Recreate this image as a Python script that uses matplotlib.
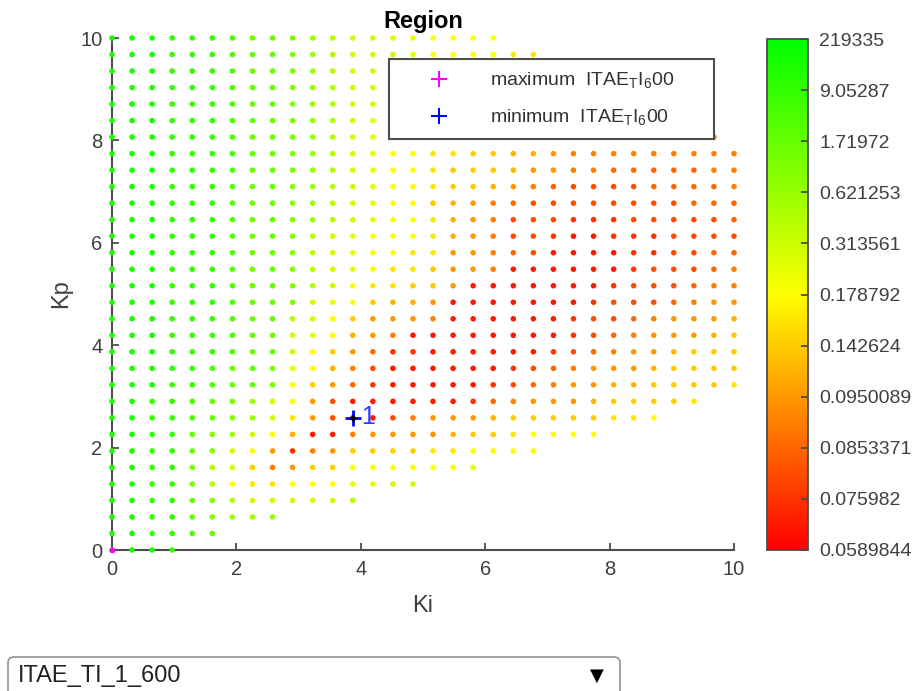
import numpy as np
import matplotlib
matplotlib.use('Agg')
import matplotlib.pyplot as plt
from matplotlib import colors
from matplotlib.lines import Line2D
from matplotlib.patches import FancyBboxPatch

plt.rcParams['font.family'] = ['Liberation Sans', 'DejaVu Sans']
plt.rcParams['mathtext.fontset'] = 'custom'
plt.rcParams['mathtext.rm'] = 'Liberation Sans'

# gain sweep used for both Ki and Kp (32 steps, 0..10)
gain_steps = [0.0, 0.323, 0.645, 0.968, 1.290, 1.613, 1.935, 2.258,
              2.581, 2.903, 3.226, 3.548, 3.871, 4.194, 4.516, 4.839,
              5.161, 5.484, 5.806, 6.129, 6.452, 6.774, 7.097, 7.419,
              7.742, 8.065, 8.387, 8.710, 9.032, 9.355, 9.677, 10.0]

# colour bar: ITAE at 0%, 10%, ... 100% rank
cbar_ticks = [0.0589844, 0.075982, 0.0853371, 0.0950089, 0.142624, 0.178792,
              0.313561, 0.621253, 1.71972, 9.05287, 219335]
cbar_labels = ['0.0589844', '0.075982', '0.0853371', '0.0950089', '0.142624',
               '0.178792', '0.313561', '0.621253', '1.71972', '9.05287', '219335']

# ITAE of each stable (Ki, Kp) pair, one string per Kp row from Kp=10 down to 0.
# char k (base 21: 0..9, A..K) = rank k/20 on the colour bar
itae_rows = [
    "JJJIIIHGGFEDCCBBAAAA",
    "JJJIIIHGGFEDCCCBAAAA99",
    "JJJIIIHGGFEDCCBBAA999888",
    "JJJIIIHGGFEDCCBAA998887776",
    "JJJIIIHGGFEDCCBAA99887766665",
    "JJJIIIHGGFEDCBAA99887766555555",
    "JJJIIIHGGFEDCBAA998876655555555",
    "JJJIIIHGGFEDCBAA9988776555555555",
    "JJJIIIHGGFEDCBAA9888766554444455",
    "JJJIIIHGGFEDCBAA9887654333344445",
    "JJJIIIHGGFEDCBAA8765433333333444",
    "JJJIIIHGGFEDCBAA9765333222333334",
    "JJJIIIHGGFDCBAAA9765332112223333",
    "JJJIIIHGGFDCBAA99665431111223344",
    "JJJIIIHGGFDCBA998665111111233345",
    "JJJIIIHGGFDCA9988611111112333455",
    "JJJIIIHGGFCBA8776111111123334566",
    "JJJIIIHGGDCA86665111111233456667",
    "JJJIIIHGGCBA76511111111234566678",
    "JJJIIIHGGCA864221111112345667888",
    "JJJIIHGGFBA753111111234566678888",
    "JJJIIHGGFA8642111112345667788889",
    "JJIIHGFECA63111111245666788889",
    "JJIIHGFEC963013566678888899A",
    "JJIIGFECA711566667889AAAA",
    "JJIIGFCA6256888899AAAA",
    "JJIIFDC85688AAAAAAB",
    "JJIIFDA99AAABBCC",
    "JJIIGFDCCCCCD",
    "JJIIGFEEE",
    "JJIIHG",
    "KJJI",
]

rank_pos = np.linspace(0, 1, len(cbar_ticks))
log_ticks = np.log10(cbar_ticks)


def to_rank(v):
    return np.interp(np.log10(np.clip(v, 1e-12, None)), log_ticks, rank_pos)


def from_rank(r):
    return 10 ** np.interp(r, rank_pos, log_ticks)


ki, kp, itae = [], [], []
nrow = len(itae_rows)
for r, row in enumerate(itae_rows):
    for i, ch in enumerate(row):
        ki.append(gain_steps[i])
        kp.append(gain_steps[nrow - 1 - r])
        itae.append(from_rank(int(ch, 21) / 20))
ki = np.array(ki)
kp = np.array(kp)
itae = np.array(itae)

cmap = colors.LinearSegmentedColormap.from_list(
    'ryg', [(0, '#ff0000'), (0.5, '#ffff00'), (1, '#00ff00')])
norm = colors.FuncNorm((to_rank, from_rank), vmin=cbar_ticks[0], vmax=cbar_ticks[-1])

fig = plt.figure(figsize=(9.15, 6.91), dpi=100)
ax = fig.add_axes([112/915, 141/691, 622/915, 512/691])
cax = fig.add_axes([767/915, 141/691, 41/915, 511/691])

sc = ax.scatter(ki, kp, c=itae, cmap=cmap, norm=norm, s=16, edgecolors='none',
                zorder=3, clip_on=False)

imax = np.argmax(itae)
imin = np.argmin(itae)
ax.plot(ki[imax], kp[imax], 'o', color='magenta', ms=4.2, mec='none', zorder=5, clip_on=False)
ax.plot(ki[imin], kp[imin], '+', color='blue', ms=12, mew=2, zorder=5)
ax.plot(ki[imin], kp[imin], '+', color='black', ms=5, mew=2, zorder=6)
ax.text(ki[imin] + 0.14, kp[imin] + 0.02, '1', color='#2a3cff', fontsize=18,
        va='center', ha='left', zorder=6)

ax.set_xlim(0, 10)
ax.set_ylim(0, 10)
ax.set_xticks([0, 2, 4, 6, 8, 10])
ax.set_yticks([0, 2, 4, 6, 8, 10])
for side in ['top', 'right']:
    ax.spines[side].set_visible(False)
for side in ['left', 'bottom']:
    ax.spines[side].set_color('#4d4d4d')
    ax.spines[side].set_linewidth(1.5)
ax.tick_params(direction='in', length=5, width=1.3, color='#4d4d4d',
               labelsize=14.5, labelcolor='#404040', pad=7)
ax.set_xlabel('Ki', fontsize=17, color='#404040', labelpad=12)
ax.set_ylabel('Kp', fontsize=17, color='#404040', labelpad=6)
ax.set_title('Region', fontsize=17, fontweight='bold', pad=7)

handles = [Line2D([], [], ls='none', marker='+', color='magenta', ms=11, mew=1.5),
           Line2D([], [], ls='none', marker='+', color='blue', ms=11, mew=1.5)]
labels = [r'maximum  ITAE$_\mathrm{T}$I$_\mathrm{6}$00',
          r'minimum  ITAE$_\mathrm{T}$I$_\mathrm{6}$00']
leg = ax.legend(handles, labels, loc='upper left',
                bbox_to_anchor=(0.445, 0.959, 0.523, 0.0), mode='expand',
                fontsize=14, frameon=True, fancybox=False, framealpha=1,
                edgecolor='#4d4d4d', borderpad=0.6, labelspacing=0.85,
                handlelength=4.0, handletextpad=0.6, borderaxespad=0)
leg.get_frame().set_linewidth(1.5)
leg.set_zorder(10)
for t in leg.get_texts():
    t.set_color('#333333')

cb = fig.colorbar(sc, cax=cax)
cb.set_ticks(cbar_ticks, labels=cbar_labels)
cb.minorticks_off()
cb.ax.tick_params(direction='in', length=5, width=1.3, color='#4d4d4d',
                  labelsize=14, labelcolor='#404040', pad=8)
cb.outline.set_edgecolor('#4d4d4d')
cb.outline.set_linewidth(1.3)

# selector box under the plot
ov = fig.add_axes([0, 0, 1, 1])
ov.set_xlim(0, 915)
ov.set_ylim(691, 0)
ov.axis('off')
ov.add_patch(FancyBboxPatch((8, 657), 612, 45, boxstyle='round,pad=0,rounding_size=6',
                            fc='white', ec='#9a9a9a', lw=1.3))
ov.text(18, 676, 'ITAE_TI_1_600', fontsize=17, color='#222222', va='center', ha='left')
ov.text(597, 676, '\u25bc', fontsize=13, color='black', va='center', ha='center',
        family=['DejaVu Sans'])

fig.savefig('out.png', dpi=100)
